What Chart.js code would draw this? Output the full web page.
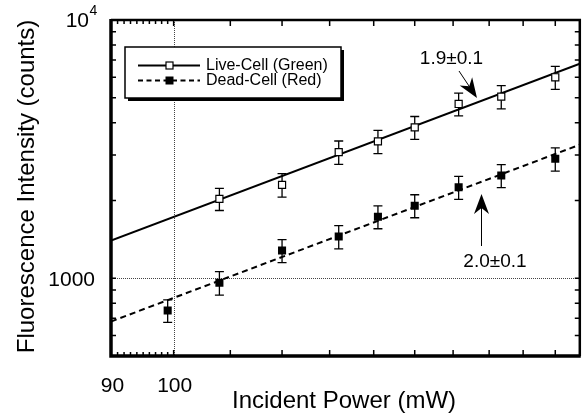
<!DOCTYPE html>
<html>
<head>
<meta charset="utf-8">
<script src="https://cdn.jsdelivr.net/npm/chart.js@4.4.0/dist/chart.umd.min.js"></script>
<style>
html, body { margin: 0; padding: 0; background: #fff; }
#wrap { position: relative; width: 586px; height: 413px; }
</style>
</head>
<body>
<div id="wrap"><canvas id="c" width="586" height="413"></canvas></div>
<script>
'use strict';

// data
var powerLive = [108, 120, 132, 141, 150, 161.5, 173.5, 190];
var countsLive = [2030, 2300, 3080, 3390, 3840, 4730, 5050, 6000];
var errLive = [200, 240, 320, 350, 390, 480, 520, 610];

var powerDead = [99, 108, 120, 132, 141, 150, 161.5, 173.5, 190];
var countsDead = [750, 960, 1280, 1450, 1730, 1910, 2250, 2500, 2900];
var errDead = [75, 100, 130, 150, 175, 195, 230, 255, 300];

var fitPower = [90, 198];
var fitLive = [1400, 6770];
var fitDead = [680, 3290];

var xTicksMinor = [91, 92, 93, 94, 95, 96, 97, 98, 99];
var xTicksMajor = [100, 110, 120, 130, 140, 150, 160, 170, 180, 190];
var yTicks = [600, 700, 800, 900, 1000, 2000, 3000, 4000, 5000, 6000, 7000, 8000, 9000];
var xLabels = ['90', '100'];
var xLabelValues = [90, 100];
var yLabel1000 = '1000';

var legendLabels = ['Live-Cell (Green)', 'Dead-Cell (Red)'];
var slopeLabels = ['1.9\u00b10.1', '2.0\u00b10.1'];

var FONT = "'Liberation Sans', Arial, Helvetica, sans-serif";

function toPoints(xs, ys) {
  return xs.map(function (x, i) { return { x: x, y: ys[i] }; });
}

/** 虚线网格（100 与 1000）和误差棒 */
var gridPlugin = {
  id: 'gridLines',
  beforeDatasetsDraw: function (chart) {
    var ctx = chart.ctx, a = chart.chartArea;
    var xs = chart.scales.x, ys = chart.scales.y;
    ctx.save();
    ctx.strokeStyle = '#444';
    ctx.lineWidth = 1;
    ctx.setLineDash([1, 1]);
    var px = Math.round(xs.getPixelForValue(100)) + 0.5;
    ctx.beginPath(); ctx.moveTo(px, a.top); ctx.lineTo(px, a.bottom); ctx.stroke();
    var py = Math.round(ys.getPixelForValue(1000)) + 0.5;
    ctx.beginPath(); ctx.moveTo(a.left, py); ctx.lineTo(a.right, py); ctx.stroke();
    ctx.setLineDash([]);

    ctx.strokeStyle = '#000';
    ctx.lineWidth = 1.3;
    function bars(xv, yv, ev) {
      xv.forEach(function (x, i) {
        var cx = xs.getPixelForValue(x);
        var top = ys.getPixelForValue(yv[i] + ev[i]);
        var bot = ys.getPixelForValue(yv[i] - ev[i]);
        ctx.beginPath();
        ctx.moveTo(cx, top); ctx.lineTo(cx, bot);
        ctx.moveTo(cx - 4.5, top); ctx.lineTo(cx + 4.5, top);
        ctx.moveTo(cx - 4.5, bot); ctx.lineTo(cx + 4.5, bot);
        ctx.stroke();
      });
    }
    bars(powerLive, countsLive, errLive);
    bars(powerDead, countsDead, errDead);
    ctx.restore();
  }
};

/** 边框、刻度、文字、图例、注释 */
var framePlugin = {
  id: 'frame',
  afterDraw: function (chart) {
    var ctx = chart.ctx, a = chart.chartArea;
    var xs = chart.scales.x, ys = chart.scales.y;
    ctx.save();
    ctx.strokeStyle = '#000';
    ctx.fillStyle = '#000';

    // ticks (inward, on all four sides)
    ctx.lineWidth = 1.5;
    ctx.beginPath();
    xTicksMinor.forEach(function (v) {
      var p = xs.getPixelForValue(v);
      ctx.moveTo(p, a.bottom); ctx.lineTo(p, a.bottom - 4);
      ctx.moveTo(p, a.top); ctx.lineTo(p, a.top + 4);
    });
    xTicksMajor.forEach(function (v) {
      var p = xs.getPixelForValue(v);
      ctx.moveTo(p, a.bottom); ctx.lineTo(p, a.bottom - 6);
      ctx.moveTo(p, a.top); ctx.lineTo(p, a.top + 6);
    });
    yTicks.forEach(function (v) {
      var p = ys.getPixelForValue(v);
      ctx.moveTo(a.left, p); ctx.lineTo(a.left + 5, p);
      ctx.moveTo(a.right, p); ctx.lineTo(a.right - 5, p);
    });
    ctx.stroke();

    // frame
    ctx.lineWidth = 2.5;
    ctx.beginPath();
    ctx.moveTo(a.left, a.top); ctx.lineTo(a.right, a.top); ctx.lineTo(a.right, a.bottom);
    ctx.stroke();
    ctx.lineWidth = 3.5;
    ctx.beginPath();
    ctx.moveTo(a.left, a.top - 1); ctx.lineTo(a.left, a.bottom); ctx.lineTo(a.right + 1, a.bottom);
    ctx.stroke();

    // tick labels
    ctx.font = '21px ' + FONT;
    ctx.textBaseline = 'alphabetic';
    ctx.textAlign = 'center';
    xLabelValues.forEach(function (v, i) {
      ctx.fillText(xLabels[i], xs.getPixelForValue(v) + (i === 0 ? 1.5 : 1), a.bottom + 36);
    });
    ctx.textAlign = 'right';
    ctx.fillText(yLabel1000, a.left - 16, ys.getPixelForValue(1000) + 7.5);
    ctx.font = '21px ' + FONT;
    ctx.fillText('10', a.left - 22, ys.getPixelForValue(10000) + 7);
    ctx.textAlign = 'left';
    ctx.font = '14px ' + FONT;
    ctx.fillText('4', a.left - 21.5, ys.getPixelForValue(10000) - 5);

    // axis titles
    ctx.font = '24px ' + FONT;
    ctx.textAlign = 'center';
    ctx.fillText('Incident Power (mW)', 344, 408);
    ctx.save();
    ctx.translate(33.5, 186.5);
    ctx.rotate(-Math.PI / 2);
    ctx.fillText('Fluorescence Intensity (counts)', 0, 0);
    ctx.restore();

    // legend box with drop shadow
    var lx = 125, ly = 47, lw = 216, lh = 51;
    ctx.fillRect(lx + 3, ly + 3, lw, lh);
    ctx.fillStyle = '#fff';
    ctx.fillRect(lx, ly, lw, lh);
    ctx.lineWidth = 1.5;
    ctx.strokeRect(lx, ly, lw, lh);
    ctx.fillStyle = '#000';
    var rows = [65.5, 80.5];
    ctx.lineWidth = 1.8;
    ctx.beginPath(); ctx.moveTo(138, rows[0]); ctx.lineTo(200, rows[0]); ctx.stroke();
    ctx.setLineDash([5, 3.5]);
    ctx.beginPath(); ctx.moveTo(138, rows[1]); ctx.lineTo(200, rows[1]); ctx.stroke();
    ctx.setLineDash([]);
    ctx.fillStyle = '#fff';
    ctx.fillRect(166, rows[0] - 3.5, 7, 7);
    ctx.lineWidth = 1.2;
    ctx.strokeRect(166, rows[0] - 3.5, 7, 7);
    ctx.fillStyle = '#000';
    ctx.fillRect(165.5, rows[1] - 4, 8, 8);
    ctx.font = '16px ' + FONT;
    ctx.textAlign = 'left';
    ctx.textBaseline = 'middle';
    ctx.fillText(legendLabels[0], 206, rows[0] + 0.5);
    ctx.fillText(legendLabels[1], 206, rows[1] + 0.5);

    // slope annotations
    ctx.font = '19px ' + FONT;
    ctx.textAlign = 'center';
    ctx.fillText(slopeLabels[0], 451.5, 58.5);
    ctx.fillText(slopeLabels[1], 495, 262);

    function arrow(x0, y0, x1, y1) {
      var dx = x1 - x0, dy = y1 - y0, len = Math.sqrt(dx * dx + dy * dy);
      var ux = dx / len, uy = dy / len;
      var hl = 20, hw = 7.5;
      ctx.lineWidth = 1;
      ctx.beginPath();
      ctx.moveTo(x0, y0); ctx.lineTo(x1 - ux * hl * 0.6, y1 - uy * hl * 0.6);
      ctx.stroke();
      ctx.beginPath();
      ctx.moveTo(x1, y1);
      ctx.lineTo(x1 - ux * hl - uy * hw, y1 - uy * hl + ux * hw);
      ctx.lineTo(x1 - ux * hl * 0.7, y1 - uy * hl * 0.7);
      ctx.lineTo(x1 - ux * hl + uy * hw, y1 - uy * hl - ux * hw);
      ctx.closePath();
      ctx.fill();
    }
    arrow(459, 71, 477, 98);
    arrow(481.5, 246, 481.5, 194);

    ctx.restore();
  }
};

new Chart(document.getElementById('c'), {
  type: 'scatter',
  data: {
    datasets: [
      {
        label: legendLabels[0],
        data: toPoints(powerLive, countsLive),
        pointStyle: 'rect',
        pointRadius: 5,
        backgroundColor: '#fff',
        borderColor: '#000',
        borderWidth: 1.2,
        showLine: false
      },
      {
        label: legendLabels[1],
        data: toPoints(powerDead, countsDead),
        pointStyle: 'rect',
        pointRadius: 5.7,
        backgroundColor: '#000',
        borderColor: '#000',
        borderWidth: 0,
        showLine: false
      },
      {
        label: 'fit live',
        data: toPoints(fitPower, fitLive),
        showLine: true,
        borderColor: '#000',
        borderWidth: 2,
        pointRadius: 0
      },
      {
        label: 'fit dead',
        data: toPoints(fitPower, fitDead),
        showLine: true,
        borderColor: '#000',
        borderWidth: 2,
        borderDash: [6, 4],
        pointRadius: 0
      }
    ]
  },
  options: {
    responsive: false,
    animation: false,
    devicePixelRatio: 1,
    layout: { padding: { left: 111, right: 6, top: 20, bottom: 57 } },
    plugins: { legend: { display: false }, tooltip: { enabled: false } },
    scales: {
      x: { type: 'logarithmic', min: 90, max: 198, display: false },
      y: { type: 'logarithmic', min: 500, max: 10000, display: false }
    }
  },
  plugins: [gridPlugin, framePlugin]
});
</script>
</body>
</html>
